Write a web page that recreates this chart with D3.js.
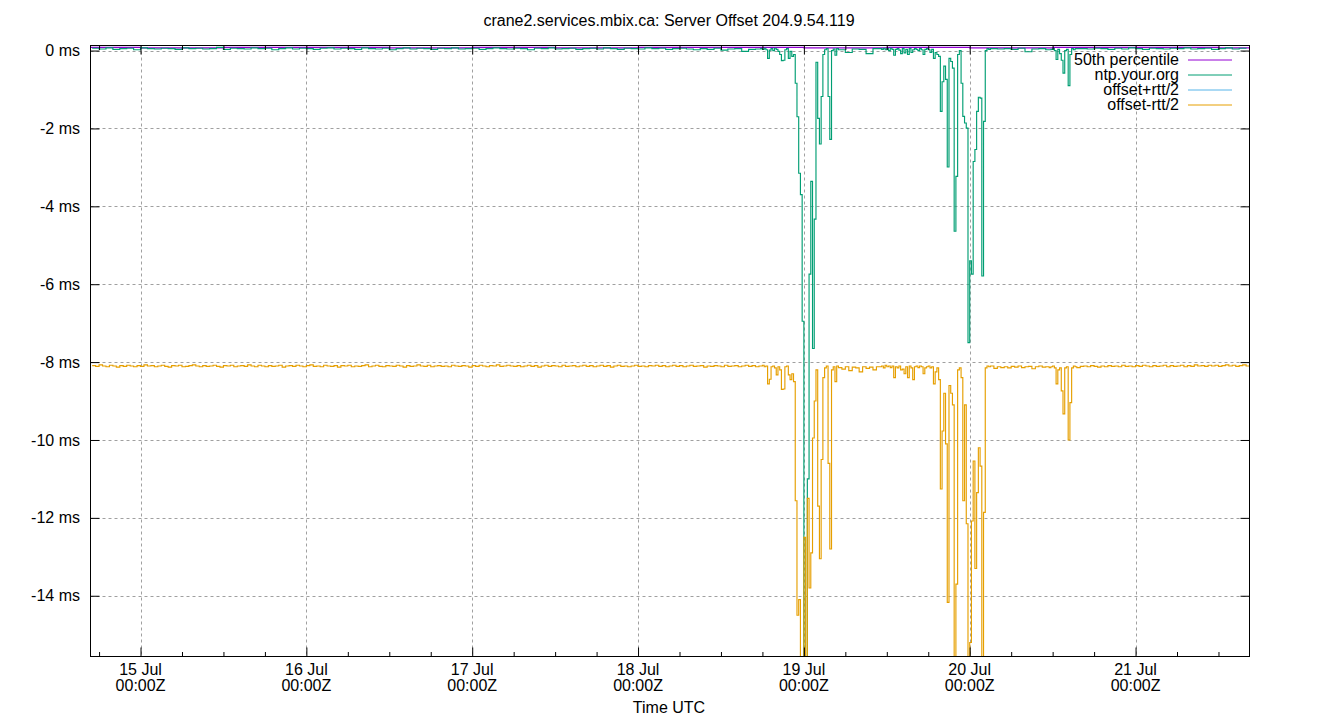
<!DOCTYPE html>
<html><head><meta charset="utf-8">
<script src="https://cdn.jsdelivr.net/npm/d3@7"></script>
<style>
body{margin:0;background:#fff}
svg{display:block}
text{font-family:"Liberation Sans",Arial,sans-serif;font-size:16px;fill:#000}
</style>
</head><body><svg id="c" width="1340" height="720"></svg>
<script>
// ---------------- data ----------------
const title = "crane2.services.mbix.ca: Server Offset 204.9.54.119";
const xTitle = "Time UTC";
const seriesNames = ["50th percentile", "ntp.your.org", "offset+rtt/2", "offset-rtt/2"];
const seriesColors = ["#9400d3", "#009e73", "#56b4e9", "#e69f00"];

// times are hours after 14 Jul 00:00Z
const timeDomainHours = [16.76, 184.49];
const dayTickHours = [24, 48, 72, 96, 120, 144, 168];
const minorTickStepHours = 6;
const yTicks = [-14, -12, -10, -8, -6, -4, -2, 0];
const yDomain = [-15.56, 0.13];

// offset baseline: hourly samples from hour 17
const offsetBaseStart = 17;
const offsetBaseStep = 1;
const offsetBase = [
 0.06,0.04,0.07,0.03,0.05,0.06,0.02,0.07,0.05,0.04,0.06,0.05,
 0.03,0.07,0.05,0.06,0.04,0.05,0.08,0.03,0.06,0.05,0.04,0.07,
 0.05,0.06,0.02,0.05,0.07,0.04,0.06,0.05,0.03,0.06,0.07,0.04,
 0.06,0.05,0.03,0.07,0.05,0.04,0.06,0.02,0.05,0.07,0.04,0.06,
 0.05,0.03,0.06,0.05,0.07,0.04,0.05,0.06,0.03,0.05,0.07,0.05,
 0.04,0.06,0.05,0.02,0.06,0.05,0.07,0.04,0.05,0.06,0.03,0.05,
 0.06,0.04,0.07,0.05,0.03,0.06,0.05,0.04,0.07,0.05,0.06,0.03,
 0.05,0.06,0.04,0.02,0.05,0.03,0.06,0.01,0.04,0.05,-0.02,0.03,
 0.04,0.05,0.03,0.05,0.02,0.04,0.05,0.03,0.04,0.02,0.05,0.03,
 0.02,-0.05,0.04,0.03,-0.08,0.05,0.02,0.04,0.03,0.05,0.02,0.04,
 0.03,0.05,0.02,0.04,0.03,0.05,0.04,0.02,0.05,0.03,0.06,0.04,
 0.05,0.03,0.06,-0.03,0.04,0.05,0.02,0.05,0.03,0.04,0.06,0.05,
 0.04,0.06,0.05,0.03,0.06,0.04,0.07,0.05,0.03,0.06,0.05,0.04,
 0.06,0.05,0.07,0.04,0.05,0.06,0.03,0.05,0.07,0.04,0.06,0.05
];
// offset-rtt/2 baseline: half-hourly samples from hour 17
const lowBaseStart = 17;
const lowBaseStep = 0.5;
const lowBase = [
 -8.09,-8.11,-8.07,-8.10,-8.12,-8.08,-8.10,-8.13,-8.09,-8.11,-8.08,-8.10,
 -8.12,-8.09,-8.11,-8.07,-8.10,-8.09,-8.12,-8.10,-8.08,-8.11,-8.13,-8.09,
 -8.10,-8.08,-8.12,-8.11,-8.09,-8.07,-8.10,-8.12,-8.09,-8.11,-8.10,-8.08,
 -8.11,-8.13,-8.09,-8.10,-8.08,-8.12,-8.10,-8.09,-8.11,-8.07,-8.10,-8.12,
 -8.08,-8.10,-8.12,-8.09,-8.11,-8.10,-8.08,-8.13,-8.10,-8.09,-8.11,-8.08,
 -8.10,-8.12,-8.09,-8.07,-8.11,-8.10,-8.12,-8.08,-8.10,-8.11,-8.09,-8.13,
 -8.09,-8.10,-8.08,-8.12,-8.10,-8.11,-8.09,-8.07,-8.12,-8.10,-8.08,-8.11,
 -8.12,-8.09,-8.10,-8.11,-8.08,-8.10,-8.13,-8.09,-8.11,-8.10,-8.07,-8.10,
 -8.11,-8.08,-8.12,-8.10,-8.09,-8.11,-8.10,-8.12,-8.08,-8.10,-8.11,-8.09,
 -8.10,-8.13,-8.09,-8.11,-8.08,-8.10,-8.12,-8.09,-8.10,-8.07,-8.11,-8.10,
 -8.08,-8.10,-8.11,-8.09,-8.12,-8.10,-8.08,-8.11,-8.09,-8.13,-8.10,-8.08,
 -8.11,-8.09,-8.10,-8.12,-8.08,-8.11,-8.10,-8.09,-8.12,-8.10,-8.08,-8.11,
 -8.09,-8.12,-8.10,-8.08,-8.11,-8.09,-8.13,-8.10,-8.08,-8.11,-8.10,-8.12,
 -8.10,-8.08,-8.11,-8.10,-8.12,-8.09,-8.10,-8.08,-8.11,-8.09,-8.12,-8.10,
 -8.08,-8.11,-8.09,-8.12,-8.10,-8.08,-8.11,-8.10,-8.09,-8.13,-8.10,-8.11,
 -8.09,-8.10,-8.12,-8.08,-8.11,-8.10,-8.09,-8.12,-8.10,-8.08,-8.11,-8.09,
 -8.12,-8.10,-8.08,-8.11,-8.09,-8.13,-8.10,-8.11,-8.08,-8.12,-8.14,-8.10,
 -8.12,-8.15,-8.10,-8.13,-8.11,-8.14,-8.12,-8.10,-8.13,-8.11,-8.12,-8.14,
 -8.14,-8.18,-8.12,-8.22,-8.13,-8.15,-8.25,-8.12,-8.16,-8.13,-8.20,-8.12,
 -8.14,-8.12,-8.15,-8.13,-8.12,-8.14,-8.13,-8.15,-8.12,-8.10,-8.13,-8.11,
 -8.12,-8.14,-8.13,-8.12,-8.15,-8.13,-8.12,-8.14,-8.13,-8.12,-8.14,-8.13,
 -8.13,-8.12,-8.14,-8.13,-8.12,-8.14,-8.13,-8.12,-8.13,-8.16,-8.12,-8.14,
 -8.12,-8.15,-8.11,-8.13,-8.10,-8.14,-8.12,-8.11,-8.17,-8.12,-8.10,-8.13,
 -8.12,-8.14,-8.11,-8.13,-8.12,-8.10,-8.13,-8.11,-8.12,-8.14,-8.11,-8.10,
 -8.12,-8.09,-8.11,-8.13,-8.10,-8.12,-8.09,-8.11,-8.10,-8.12,-8.08,-8.11,
 -8.10,-8.12,-8.09,-8.11,-8.08,-8.10,-8.12,-8.09,-8.11,-8.10,-8.08,-8.12,
 -8.09,-8.11,-8.10,-8.08,-8.12,-8.09,-8.11,-8.07,-8.10,-8.09,-8.11,-8.08,
 -8.10,-8.08,-8.11,-8.09,-8.07,-8.10,-8.08,-8.11,-8.09,-8.07,-8.10,-8.08
];

// dense samples during disturbed periods (step 15 min)
const burstStepHours = 0.25;
const burstStarts = [113.75, 131.0, 155.75];
const offsetBurst1 = [0.05,0.03,0.06,0.02,-0.2,0.01,0.05,0.0,0.06,0.03,-0.02,-0.1,-0.26,-0.25,0.02,0.05,-0.2,-0.02,-0.15,-0.1,-0.84,-1.7,-3.15,-3.7,-6.95,-16,-16,-11.0,-5.74,-3.36,-7.65,-4.33,-0.3,-1.74,-2.4,-1.18,-0.1,0.02,0.05,-1.18,-2.28,0.0,0.04,-0.12,0.05];
const lowBurst1 = [-8.1,-8.08,-8.12,-8.1,-8.56,-8.44,-8.12,-8.1,-8.15,-8.33,-8.12,-8.2,-8.7,-8.69,-8.12,-8.1,-8.33,-8.45,-8.3,-8.5,-11.56,-14.5,-14.1,-16,-16,-12.5,-16,-11.5,-13.8,-12.9,-9.95,-9.0,-8.2,-11.7,-13.05,-10.5,-8.4,-8.15,-8.1,-10.6,-12.8,-8.2,-8.12,-8.5,-8.1];
const offsetBurst2 = [0.05,0.03,0.06,0.02,0.05,0.0,0.06,0.03,-0.12,0.03,0.05,0.01,-0.08,0.05,-0.06,0.03,-0.1,0.05,-0.05,0.02,0.05,0.03,0.0,0.05,0.02,-0.1,0.03,0.05,0.02,-0.05,0.03,-0.2,-0.05,-0.1,-0.15,-1.56,-0.8,-0.4,-0.74,-2.99,-0.2,-0.28,-0.45,-4.64,-3.23,-0.1,0.0,-0.84,-1.69,-1.86,-1.99,-7.5,-5.4,-5.74,-2.85,-2.54,-1.56,-1.2,-1.22,-5.79,-1.82,0.0,0.05,0.03,0.05];
const lowBurst2 = [-8.12,-8.1,-8.15,-8.08,-8.12,-8.1,-8.14,-8.1,-8.4,-8.12,-8.15,-8.1,-8.2,-8.18,-8.3,-8.12,-8.4,-8.1,-8.15,-8.45,-8.12,-8.1,-8.14,-8.1,-8.12,-8.3,-8.15,-8.12,-8.1,-8.15,-8.12,-8.56,-8.25,-8.15,-8.45,-11.26,-9.77,-8.8,-10.1,-14.17,-8.6,-8.8,-9.1,-16,-13.7,-8.2,-8.15,-8.4,-11.56,-9.1,-12.15,-16,-15.2,-12.08,-10.54,-13.3,-11.35,-10.2,-10.67,-16,-11.86,-8.15,-8.1,-8.12,-8.1];
const offsetBurst3 = [0.03,0.05,0.0,-0.23,0.03,-0.08,-0.25,-0.58,0.0,0.03,-0.9,-0.1,0.05,0.02,0.05];
const lowBurst3 = [-8.12,-8.1,-8.15,-8.56,-8.2,-8.15,-8.74,-9.33,-8.15,-8.12,-10.0,-9.04,-8.15,-8.1,-8.12];

// 12-hourly samples (start hour 12)
const coarseStartHour = 12;
const coarseStepHours = 12;
const medianVals = [0.08,0.07,0.08,0.08,0.07,0.08,0.07,0.08,0.08,0.07,0.08,0.07,0.08,0.08,0.07,0.08];
const highVals = [8.1,8.12,8.09,8.11,8.1,8.12,8.09,8.1,8.11,8.12,8.1,8.09,8.11,8.1,8.12,8.1];

// ---------------- chart ----------------
const T0 = Date.UTC(2024, 6, 14);
const hd = h => new Date(T0 + h * 3600e3);
const L = 90.5, R = 1249.5, T = 45.5, B = 656.5;

const svg = d3.select("#c");
const x = d3.scaleUtc().domain(timeDomainHours.map(hd)).range([L, R]);
const y = d3.scaleLinear().domain(yDomain).range([B, T]);

function build(base, start, step, bursts) {
  const pts = [];
  const wins = bursts.map((b, i) => [burstStarts[i], burstStarts[i] + (b.length - 1) * burstStepHours]);
  base.forEach((v, k) => {
    const h = start + k * step;
    if (!wins.some(w => h >= w[0] && h <= w[1])) pts.push([h, v]);
  });
  bursts.forEach((b, i) => b.forEach((v, j) => pts.push([burstStarts[i] + j * burstStepHours, v])));
  pts.sort((a, b) => a[0] - b[0]);
  return pts;
}
const coarse = vals => vals.map((v, k) => [coarseStartHour + k * coarseStepHours, v]);

const series = [
  coarse(medianVals),
  build(offsetBase, offsetBaseStart, offsetBaseStep, [offsetBurst1, offsetBurst2, offsetBurst3]),
  coarse(highVals),
  build(lowBase, lowBaseStart, lowBaseStep, [lowBurst1, lowBurst2, lowBurst3])
];

// title
svg.append("text").attr("x", 669).attr("y", 26).attr("text-anchor", "middle").text(title);

// grid
const grid = svg.append("g").attr("stroke", "#a0a0a0").attr("stroke-width", 1).attr("stroke-dasharray", "3,3").attr("fill", "none");
dayTickHours.forEach(h => {
  const px = Math.round(x(hd(h))) + 0.5;
  grid.append("line").attr("x1", px).attr("x2", px).attr("y1", T).attr("y2", B);
});
yTicks.forEach(v => {
  const py = Math.round(y(v)) + 0.5;
  grid.append("line").attr("x1", L).attr("x2", R).attr("y1", py).attr("y2", py);
});

// data
svg.append("clipPath").attr("id", "clip").append("rect").attr("x", L).attr("y", T).attr("width", R - L).attr("height", B - T);
const line = d3.line().curve(d3.curveStepAfter).x(d => x(hd(d[0]))).y(d => y(d[1]));
const dg = svg.append("g").attr("clip-path", "url(#clip)");
series.forEach((s, i) => {
  dg.append("path").datum(s).attr("d", line).attr("fill", "none")
    .attr("stroke", seriesColors[i]).attr("stroke-width", 1.15);
});

// axes
const majorX = dayTickHours.map(hd);
const minorX = d3.range(Math.ceil(timeDomainHours[0] / minorTickStepHours) * minorTickStepHours, timeDomainHours[1], minorTickStepHours)
  .filter(h => h % 24 !== 0).map(hd);
function styleAxis(g) { g.select(".domain").remove(); g.selectAll("line").attr("stroke", "#000"); g.selectAll("text").remove(); }
svg.append("g").attr("transform", `translate(0,${B})`).call(d3.axisBottom(x).tickValues(majorX).tickSize(-9).tickFormat("")).call(styleAxis);
svg.append("g").attr("transform", `translate(0,${B})`).call(d3.axisBottom(x).tickValues(minorX).tickSize(-4.5).tickFormat("")).call(styleAxis);
svg.append("g").attr("transform", `translate(0,${T})`).call(d3.axisTop(x).tickValues(majorX).tickSize(-9).tickFormat("")).call(styleAxis);
svg.append("g").attr("transform", `translate(0,${T})`).call(d3.axisTop(x).tickValues(minorX).tickSize(-4.5).tickFormat("")).call(styleAxis);
svg.append("g").attr("transform", `translate(${L},0)`).call(d3.axisLeft(y).tickValues(yTicks).tickSize(-9).tickFormat("")).call(styleAxis);
svg.append("g").attr("transform", `translate(${R},0)`).call(d3.axisRight(y).tickValues(yTicks).tickSize(-9).tickFormat("")).call(styleAxis);

// border
svg.append("rect").attr("x", L).attr("y", T).attr("width", R - L).attr("height", B - T).attr("fill", "none").attr("stroke", "#000").attr("stroke-width", 1);

// tick labels
const fmtDay = d3.utcFormat("%-d %b");
const fmtTime = d3.utcFormat("%H:%MZ");
majorX.forEach(d => {
  const t = svg.append("text").attr("text-anchor", "middle").attr("x", x(d)).attr("y", 675);
  t.append("tspan").attr("x", x(d)).text(fmtDay(d));
  t.append("tspan").attr("x", x(d)).attr("dy", 16).text(fmtTime(d));
});
yTicks.forEach(v => {
  svg.append("text").attr("text-anchor", "end").attr("x", 80).attr("y", y(v)).attr("dy", "0.35em").text(`${v} ms`);
});
svg.append("text").attr("x", 669).attr("y", 713).attr("text-anchor", "middle").text(xTitle);

// legend
seriesNames.forEach((n, i) => {
  const cy = 59.5 + i * 15;
  svg.append("text").attr("x", 1179).attr("y", cy).attr("dy", "0.35em").attr("text-anchor", "end").text(n);
  svg.append("line").attr("x1", 1188).attr("x2", 1232).attr("y1", cy + 0.5).attr("y2", cy + 0.5)
    .attr("stroke", seriesColors[i]).attr("stroke-width", 1);
});
</script></body></html>
